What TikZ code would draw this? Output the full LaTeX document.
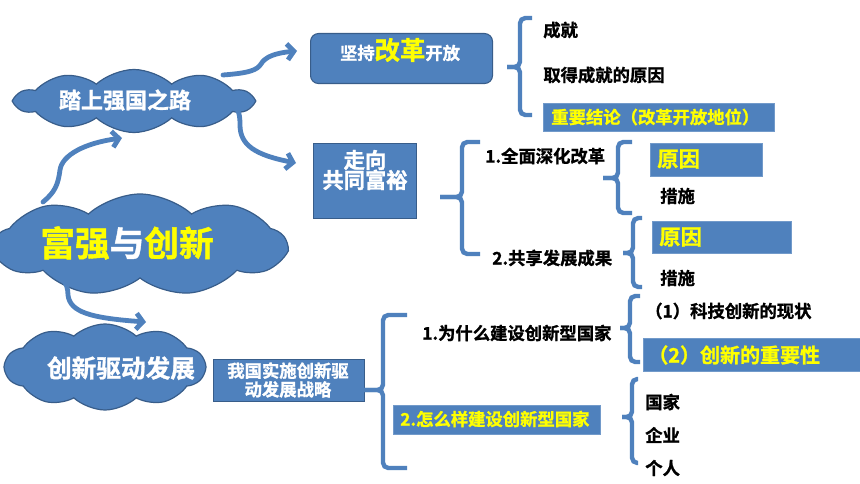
\documentclass[tikz,border=0pt]{standalone}
\usepackage{fontspec}
\setmainfont{Noto Sans CJK SC}[BoldFont={Noto Sans CJK SC Bold}, BoldFeatures={FakeBold=1.2}]
\usetikzlibrary{shapes.symbols,arrows.meta}
\definecolor{cblue}{HTML}{4F81BD}
\definecolor{cdark}{HTML}{385D8A}
\definecolor{cyel}{HTML}{FFFF00}
\newcommand\fsz[1]{\fontsize{#1}{#1}\selectfont}
\newcommand\mybrace[6]{%
  \draw[bracestyle] (#4,#2) -- (#1,#2) -- (#1,#6) -- (#5,#6);
  \draw[bracestyle] (#4,#3) -- (#1,#3) -- (#1,#6) -- (#5,#6);}
\begin{document}
\begin{tikzpicture}[x=0.75pt,y=-0.75pt,
  cloudshape/.style={cloud, cloud puffs=10, cloud puff arc=85, cloud ignores aspect, fill=cblue, draw=cdark, line width=0.9pt, inner sep=0},
  bbox/.style={fill=cblue, draw=cdark, line width=0.8pt, inner sep=0, anchor=north west},
  fbox/.style={fill=cblue, draw=cblue!80!white, line width=0.5pt, inner sep=0, anchor=north west},
  txt/.style={inner sep=0, anchor=west, font=\bfseries\fsz{13pt}},
  wtxt/.style={txt, text=white},
  ytxt/.style={txt, text=cyel},
  bracestyle/.style={draw=cblue, line width=3.3pt, rounded corners=4pt},
  arr/.style={draw=cblue, line width=3.6pt, line cap=round, -{Straight Barb[length=5pt,width=12pt]}}]
\useasboundingbox (0,0) rectangle (860,484);
\fill[white] (0,0) rectangle (860,484);
% clouds
\node[cloudshape, minimum width=236*0.75pt, minimum height=63*0.75pt] (cloudA) at (134,101) {};
\node[cloudshape, cloud puffs=9, minimum width=292*0.75pt, minimum height=102*0.75pt] (cloudB) at (140,245) {};
\node[cloudshape, minimum width=200*0.75pt, minimum height=86*0.75pt] (cloudC) at (105,367) {};
\node[wtxt, anchor=center, font=\bfseries\fsz{16.5pt}] (tA) at (125,100) {踏上强国之路};
\node[txt, anchor=center, font=\bfseries\fsz{26pt}] (tB) at (127,243) {\textcolor{cyel}{富强}\textcolor{white}{与}\textcolor{cyel}{创新}};
\node[wtxt, anchor=center, font=\bfseries\fsz{18.5pt}] (tC) at (121,368) {创新驱动发展};
% boxes
\node[bbox, rounded corners=6pt, minimum width=182*0.75pt, minimum height=50*0.75pt] (box1) at (310,33) {};
\node[wtxt, anchor=center] (t1) at (400,50) {坚持\textcolor{cyel}{\fsz{19pt}改革}开放};
\node[bbox, minimum width=103*0.75pt, minimum height=75*0.75pt] (box2) at (313,143) {};
\node[wtxt, anchor=center, font=\bfseries\fsz{16pt}, align=center] (t2) at (365,170) {走向\\[-1pt]共同富裕};
\node[bbox, minimum width=151*0.75pt, minimum height=42*0.75pt] (box3) at (213,359) {};
\node[wtxt, anchor=center, align=center] (t3) at (288,380) {我国实施创新驱\\[1pt]动发展战略};
% arrows
\coordinate (a1s) at (223,75);
\coordinate (a1e) at (297,51);
\coordinate (a2s) at (225,100);
\coordinate (a2e) at (296,163);
\coordinate (a3s) at (43,202);
\coordinate (a3e) at (122,138);
\coordinate (a4s) at (48,270);
\coordinate (a4e) at (146,322);
\draw[arr] (a1s) .. controls (250,73) and (257,70) .. (261,64) .. controls (265,57) and (275,53) .. (a1e);
\draw[arr] (a2s) .. controls (238,105) and (240,112) .. (240,125) .. controls (240,145) and (255,155) .. (a2e);
\draw[arr] (a3s) .. controls (55,192) and (58,185) .. (60,170) .. controls (62,155) and (85,143) .. (a3e);
\draw[arr] (a4s) .. controls (62,275) and (68,283) .. (68,295) .. controls (70,312) and (90,318) .. (a4e);
% top branch
\mybrace{520}{18}{115}{532}{507}{67}
\node[txt] (n1) at (543,30) {成就};
\node[txt] (n2) at (543,75) {取得成就的原因};
\node[fbox, minimum width=231*0.75pt, minimum height=28*0.75pt] (b1) at (543,103) {};
\node[ytxt] (n3) at (551,117) {重要结论（改革开放地位）};
% middle branch
\mybrace{462}{142}{254}{480}{440}{197}
\node[txt] (m1) at (485,156) {1.全面深化改革};
\node[txt] (m2) at (492,258) {2.共享发展成果};
\mybrace{618}{142}{213}{632}{603}{178}
\node[fbox, minimum width=112*0.75pt, minimum height=33*0.75pt] (rb1) at (650,143) {};
\node[ytxt, font=\bfseries\fsz{16pt}] (r1) at (657,159) {原因};
\node[txt] (s1) at (660,196) {措施};
\mybrace{633}{218}{287}{642}{623}{253}
\node[fbox, minimum width=139*0.75pt, minimum height=32*0.75pt] (rb2) at (652,221) {};
\node[ytxt, font=\bfseries\fsz{16pt}] (r2) at (659,237) {原因};
\node[txt] (s2) at (660,278) {措施};
% bottom branch
\mybrace{383}{315}{468}{407}{364}{390}
\node[txt] (w1) at (422,333) {1.为什么建设创新型国家};
\node[fbox, minimum width=207*0.75pt, minimum height=29*0.75pt] (hb) at (393,405) {};
\node[ytxt] (w2) at (400,419) {2.怎么样建设创新型国家};
\mybrace{630}{296}{362}{640}{620}{328}
\node[txt] (k1) at (645,311) {（1）科技创新的现状};
\node[fbox, minimum width=218*0.75pt, minimum height=33*0.75pt] (kb) at (643,338) {};
\node[ytxt, font=\bfseries\fsz{15pt}] (k2) at (648,355) {（2）创新的重要性};
\mybrace{632}{379}{463}{638}{622}{417}
\node[txt] (g1) at (645,402) {国家};
\node[txt] (g2) at (645,435) {企业};
\node[txt] (g3) at (645,468) {个人};
\end{tikzpicture}
\end{document}
